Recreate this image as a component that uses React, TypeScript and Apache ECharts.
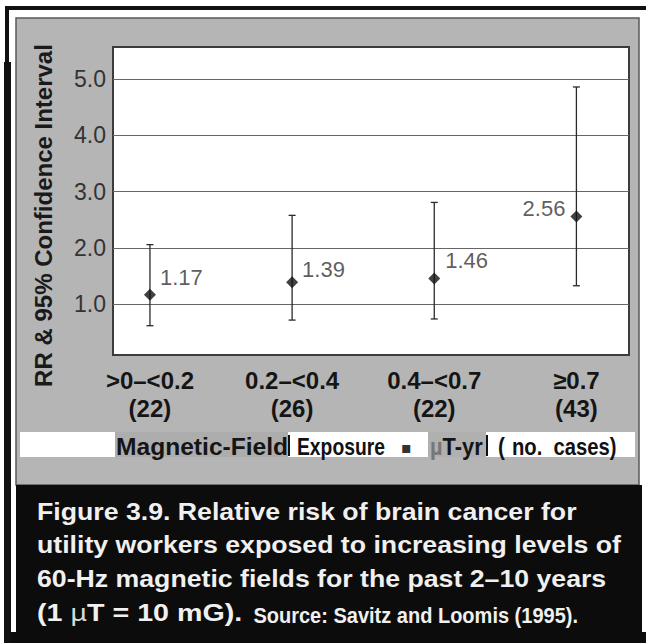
import React, { useEffect, useRef } from 'react';
import * as echarts from 'echarts';

// ---- data ----
const categories = ['>0–<0.2', '0.2–<0.4', '0.4–<0.7', '≥0.7'];
const caseCounts = [22, 26, 22, 43];
const relativeRisk = [1.17, 1.39, 1.46, 2.56];
const ciLower = [0.62, 0.72, 0.74, 1.33];
const ciUpper = [2.06, 2.58, 2.81, 4.86];
const xTickValues = [0, 1, 2, 3];
const yTickValues = [1, 2, 3, 4, 5];
const yAxisTitle = 'RR & 95% Confidence Interval';
const captionLines = [
  'Figure 3.9. Relative risk of brain cancer for',
  'utility workers exposed to increasing levels of',
  '60-Hz magnetic fields for the past 2–10 years',
];
const captionSource = 'Source: Savitz and Loomis (1995).';

const FONT = '"Liberation Sans", Arial, Helvetica, sans-serif';

function buildOption(): echarts.EChartsOption {
  const labelOffsets: number[][] = [[-1, -17], [-1, -13], [0, -18], [0, -8]];
  const graphic: any[] = [
    // outer black border
    { type: 'rect', z: -20, shape: { x: 5, y: 6, width: 641, height: 4 }, style: { fill: '#111' } },
    { type: 'rect', z: -20, shape: { x: 5, y: 6, width: 4, height: 637 }, style: { fill: '#111' } },
    { type: 'rect', z: -20, shape: { x: 4, y: 62, width: 7, height: 581 }, style: { fill: '#111' } },
    // gray panel
    { type: 'rect', z: -19, shape: { x: 16, y: 18, width: 623, height: 467 }, style: { fill: '#b5b5b5', stroke: '#5a5a5a', lineWidth: 1.5 } },
    // caption box
    { type: 'rect', z: -18, shape: { x: 16, y: 485, width: 626, height: 158 }, style: { fill: '#0c0c0c' } },
    { type: 'rect', z: -18, shape: { x: 11, y: 632, width: 635, height: 11 }, style: { fill: '#0c0c0c' } },
    // strip under the axis labels
    { type: 'rect', z: -17, shape: { x: 20, y: 432, width: 615, height: 25 }, style: { fill: '#ffffff' } },
    { type: 'rect', z: -16, shape: { x: 115, y: 432, width: 173, height: 25 }, style: { fill: '#adadad' } },
    { type: 'rect', z: -16, shape: { x: 288, y: 435, width: 2, height: 21 }, style: { fill: '#111' } },
    { type: 'rect', z: -16, shape: { x: 428, y: 432, width: 58, height: 25 }, style: { fill: '#b0b0b0' } },
    { type: 'rect', z: -16, shape: { x: 486, y: 435, width: 2, height: 21 }, style: { fill: '#111' } },
    // strip texts
    { type: 'text', z: 10, x: 116, y: 447, scaleX: 1.07, style: { text: 'Magnetic-Field', font: `bold 23px ${FONT}`, fill: '#151515', textVerticalAlign: 'middle' } },
    { type: 'text', z: 10, x: 297, y: 447, scaleX: 0.84, style: { text: 'Exposure', font: `bold 23px ${FONT}`, fill: '#111', textVerticalAlign: 'middle' } },
    { type: 'text', z: 10, x: 401, y: 447, style: { text: '▪', font: `16px "DejaVu Sans", sans-serif`, fill: '#333', textVerticalAlign: 'middle' } },
    {
      type: 'text', z: 10, x: 430, y: 447, scaleX: 0.95,
      style: {
        text: '{m|µ}{b|T-yr}', textVerticalAlign: 'middle',
        rich: {
          m: { font: `bold 23px ${FONT}`, fill: '#777' },
          b: { font: `bold 23px ${FONT}`, fill: '#151515' },
        },
      },
    },
    { type: 'text', z: 10, x: 498, y: 447, scaleX: 0.9, style: { text: '(', font: `bold 23px ${FONT}`, fill: '#111', textVerticalAlign: 'middle' } },
    { type: 'text', z: 10, x: 512, y: 447, scaleX: 0.88, style: { text: 'no.  cases)', font: `bold 23px ${FONT}`, fill: '#111', textVerticalAlign: 'middle' } },
    // y axis title
    {
      type: 'text', z: 10, x: 43, y: 215.5, rotation: Math.PI / 2,
      style: { text: yAxisTitle, font: `bold 24px ${FONT}`, fill: '#1a1a1a', textAlign: 'center', textVerticalAlign: 'middle' },
    },
  ];
  const captionY = [511.5, 545, 578.5];
  captionLines.forEach((t, i) => {
    graphic.push({
      type: 'text', z: 10, x: 37, y: captionY[i], scaleX: 1.136,
      style: { text: t, font: `bold 23.5px ${FONT}`, fill: '#f0f0f0', textVerticalAlign: 'middle' },
    });
  });
  graphic.push({
    type: 'text', z: 10, x: 37, y: 613, scaleX: 1.22,
    style: {
      text: '{b|(1 }{m|µ}{b|T = 10 mG).}', textVerticalAlign: 'middle',
      rich: {
        b: { font: `bold 23.5px ${FONT}`, fill: '#f0f0f0' },
        m: { font: `23.5px ${FONT}`, fill: '#d8d8d8' },
      },
    },
  });
  graphic.push({
    type: 'text', z: 10, x: 578, y: 615, scaleX: 0.91,
    style: { text: captionSource, font: `bold 22px ${FONT}`, fill: '#f0f0f0', textAlign: 'right', textVerticalAlign: 'middle' },
  });

  return {
    animation: false,
    backgroundColor: '#ffffff',
    graphic,
    grid: {
      left: 113, top: 47, width: 516, height: 308,
      show: true, backgroundColor: '#ffffff', borderColor: '#3c3c3c', borderWidth: 2,
    },
    xAxis: {
      type: 'value', min: -0.26, max: 3.37,
      axisLine: { show: false },
      axisTick: { show: false, customValues: xTickValues },
      splitLine: { show: false },
      axisLabel: {
        customValues: xTickValues,
        formatter: (v: number) => `${categories[v]}\n(${caseCounts[v]})`,
        fontFamily: FONT, fontSize: 24, fontWeight: 'bold', color: '#151515', lineHeight: 28, margin: 11,
      },
    } as any,
    yAxis: {
      type: 'value', min: 0.1, max: 5.57,
      axisLine: { show: false },
      axisTick: { show: false, customValues: yTickValues },
      splitLine: { show: true, lineStyle: { color: '#666', width: 1.2 } },
      axisLabel: {
        customValues: yTickValues,
        formatter: (v: number) => v.toFixed(1),
        fontFamily: FONT, fontSize: 23, color: '#333', margin: 7,
      },
    } as any,
    series: [
      {
        type: 'custom',
        z: 3,
        renderItem: (params: any, api: any) => {
          const x = api.value(0);
          const lo = api.coord([x, api.value(1)]);
          const hi = api.coord([x, api.value(2)]);
          const cap = 3.5;
          const style = { stroke: '#2a2a2a', lineWidth: 1.3 };
          return {
            type: 'group',
            children: [
              { type: 'line', shape: { x1: lo[0], y1: lo[1], x2: hi[0], y2: hi[1] }, style },
              { type: 'line', shape: { x1: lo[0] - cap, y1: lo[1], x2: lo[0] + cap, y2: lo[1] }, style },
              { type: 'line', shape: { x1: hi[0] - cap, y1: hi[1], x2: hi[0] + cap, y2: hi[1] }, style },
            ],
          };
        },
        encode: { x: 0, y: [1, 2] },
        data: xTickValues.map((i) => [i, ciLower[i], ciUpper[i]]),
      } as any,
      {
        type: 'scatter',
        z: 4,
        symbol: 'diamond',
        symbolSize: 12,
        itemStyle: { color: '#111' },
        label: {
          show: true,
          formatter: (p: any) => Number(p.value[1]).toFixed(2),
          fontFamily: FONT, fontSize: 22, color: '#333',
        },
        data: relativeRisk.map((v, i) => ({
          value: [xTickValues[i], v],
          label: { position: i === 3 ? 'left' : 'right', offset: labelOffsets[i] },
        })),
      } as any,
    ],
  };
}

export default function App() {
  const ref = useRef<HTMLDivElement>(null);
  useEffect(() => {
    document.body.style.margin = '0';
    const chart = echarts.init(ref.current!, null, { renderer: 'svg' });
    chart.setOption(buildOption());
    return () => chart.dispose();
  }, []);
  return <div ref={ref} style={{ width: 646, height: 643, position: 'absolute', left: 0, top: 0 }} />;
}
